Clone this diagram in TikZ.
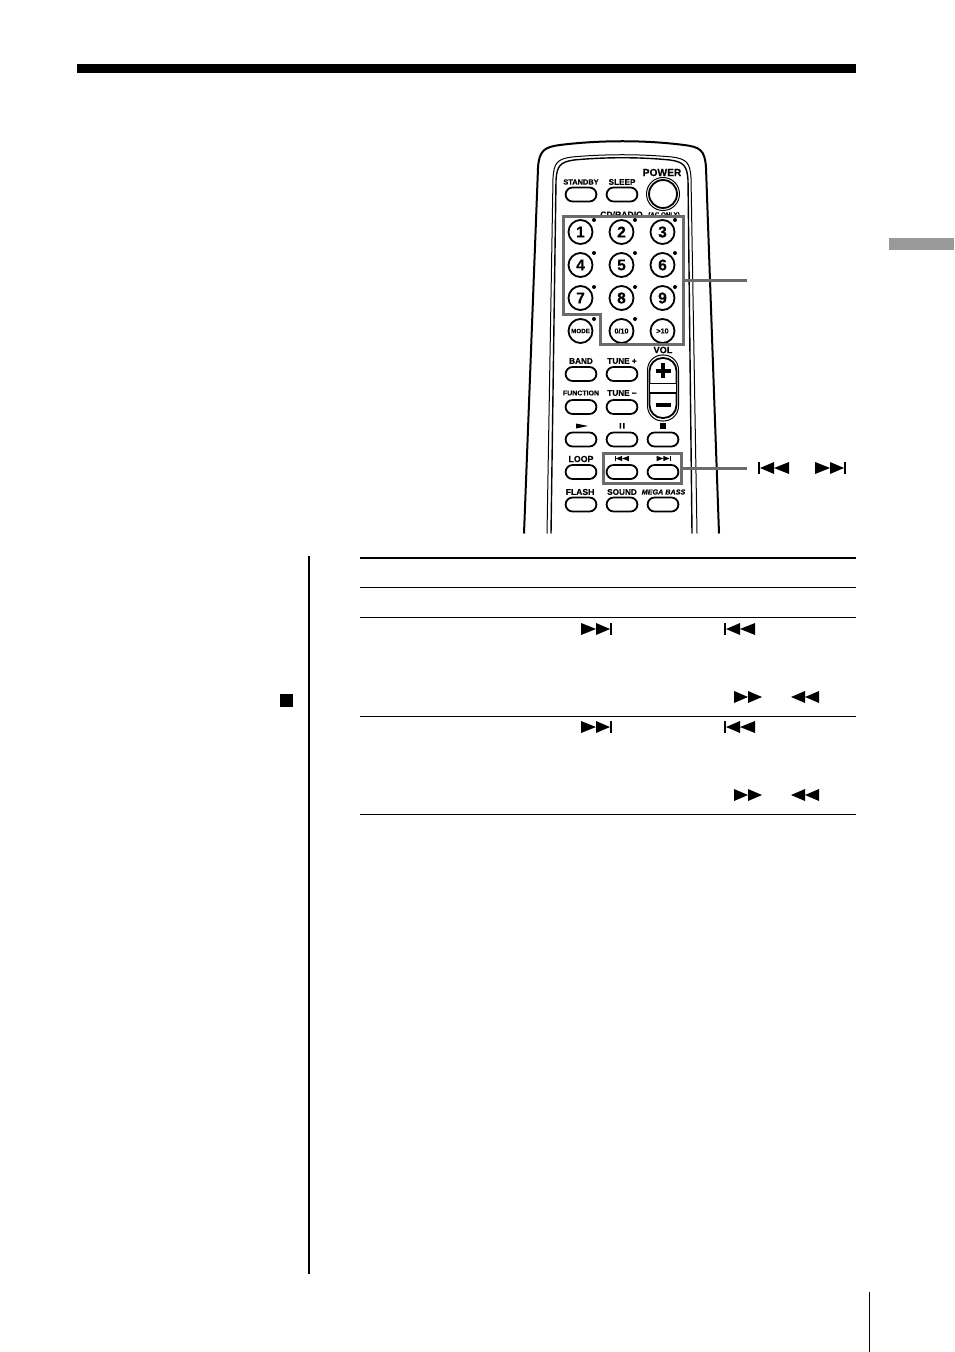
\documentclass[tikz,border=0pt]{standalone}
\usepackage{fontspec}
\setmainfont[BoldFeatures={FakeBold=0.4},BoldItalicFeatures={FakeBold=0.8}]{Liberation Sans}
\definecolor{mark}{gray}{0.42}
\tikzset{
  pillbtn/.style={draw,line width=0.9pt,minimum width=15.4pt,minimum height=7pt,inner sep=0pt,rounded corners=3.5pt},
  numbtn/.style={draw,circle,line width=0.9pt,minimum size=12pt,inner sep=0pt,font=\fontsize{7.8}{8}\selectfont\bfseries},
  smallbtn/.style={numbtn,font=\fontsize{3.6}{4}\selectfont\bfseries},
  lbl/.style={inner sep=0pt,font=\fontsize{4.1}{5}\selectfont\bfseries},
  marker/.style={draw=mark,line width=1.5pt},
  pics/skipnext/.style={code={\fill (0,-6) -- (15,0) -- (0,6) -- cycle (15,-6) -- (29,0) -- (15,6) -- cycle;
      \fill (29,-6) rectangle (31,6);}},
  pics/skipprev/.style={code={\fill (0,-6) rectangle (2,6);
      \fill (31,-6) -- (16,0) -- (31,6) -- cycle (16,-6) -- (2,0) -- (16,6) -- cycle;}},
  pics/fastfwd/.style={code={\fill (0,-6) -- (14,0) -- (0,6) -- cycle (14,-6) -- (28,0) -- (14,6) -- cycle;}},
  pics/fastrew/.style={code={\fill (28,-6) -- (14,0) -- (28,6) -- cycle (14,-6) -- (0,0) -- (14,6) -- cycle;}}
}
\begin{document}
\begin{tikzpicture}[x=0.5pt,y=-0.5pt]
\useasboundingbox (0,0) rectangle (954,1352);
% page furniture
\fill (77,64) rectangle (856,73);
\fill[white!60!black] (889,238) rectangle (954,250);
\draw[line width=0.6pt] (869.5,1292) -- (869.5,1352);
\draw[line width=1pt] (309,556) -- (309,1273.5);
\fill (280,694) rectangle (292.5,706.5);
% table rules
\draw[line width=0.9pt] (360,558) -- (856,558);
\foreach \ruley in {587.5,617.5,716.5,814.5}
  \draw[line width=0.55pt] (360,\ruley) -- (856,\ruley);
% remote body
\draw[line width=1pt] (524,533.5) -- (538,168) .. controls (539,150) and (545,147) .. (560,145)
  .. controls (600,140) and (645,140) .. (684,145) .. controls (700,147) and (705,150) .. (706,168) -- (719,533.5);
\draw[line width=0.5pt] (547,533.5) -- (553,178) .. controls (554,163) and (557,159) .. (572,157)
  .. controls (605,154) and (640,154) .. (672,157) .. controls (687,159) and (690,163) .. (691,178) -- (697,533.5);
\draw[line width=0.7pt] (551,533.5) -- (556,180) .. controls (557,166) and (560,162) .. (574,160)
  .. controls (605,157) and (640,157) .. (670,160) .. controls (684,162) and (687,166) .. (688,180) -- (692,533.5);
% power
\node[draw,circle,line width=0.5pt,minimum size=16.5pt,inner sep=0pt] (powerring) at (663,194) {};
\node[draw,circle,line width=0.9pt,minimum size=14pt,inner sep=0pt] (power) at (663,194) {};
% pill buttons
\foreach \btnname/\btnx/\btny in {standby/581/194.5,sleep/622/194.5,
    band/581/374,tuneup/622/374,function/581/407,tunedown/622/407,
    play/581/439.5,pause/622/439.5,stop/663/439.5,
    loop/581/472,prev/622/472,next/663/472,
    flash/581/504.5,sound/622/504.5,megabass/663/504.5}
  \node[pillbtn] (\btnname) at (\btnx,\btny) {};
% number buttons
\foreach \numtxt/\numx/\numy in {1/580.5/232,2/621.5/232,3/662.5/232,
    4/580.5/265,5/621.5/265,6/662.5/265,
    7/580.5/298,8/621.5/298,9/662.5/298}
  \node[numbtn] (num\numtxt) at (\numx,\numy) {\numtxt};
\node[smallbtn] (mode) at (580.5,331) {\fontsize{3.1}{4}\selectfont MODE};
\node[smallbtn] (num0) at (621.5,331) {0/10};
\node[smallbtn] (numgt) at (662.5,331) {>10};
\foreach \dotx/\doty in {594/220,635/220,675/220,594/253,635/253,675/253,
    594/287,635/287,675/287,594/319,635/319}
  \fill (\dotx,\doty) circle (1pt);
% labels
\node[lbl,font=\fontsize{3.7}{5}\selectfont\bfseries] (lstandby) at (581,182) {STANDBY};
\node[lbl] (lsleep) at (622,182) {SLEEP};
\node[lbl,font=\fontsize{5.1}{6}\selectfont\bfseries] (lpower) at (662,172.5) {POWER};
\node[lbl,font=\fontsize{4.3}{5}\selectfont\bfseries] (lcdradio) at (621.5,214.5) {CD/RADIO};
\node[lbl,font=\fontsize{3.1}{4}\selectfont\bfseries] (laconly) at (664,215) {(AC ONLY)};
\node[lbl,font=\fontsize{4.6}{5}\selectfont\bfseries] (lvol) at (663,350) {VOL};
\node[lbl] (lband) at (581,361) {BAND};
\node[lbl] (ltuneup) at (622,361) {TUNE +};
\node[lbl,font=\fontsize{3.5}{5}\selectfont\bfseries] (lfunction) at (581,393) {FUNCTION};
\node[lbl] (ltunedown) at (622,393) {TUNE −};
\node[lbl,font=\fontsize{4.4}{5}\selectfont\bfseries] (lloop) at (581,459) {LOOP};
\node[lbl,font=\fontsize{4.3}{5}\selectfont\bfseries] (lflash) at (580,492) {FLASH};
\node[lbl,font=\fontsize{4.1}{5}\selectfont\bfseries] (lsound) at (622,492) {SOUND};
\node[lbl,font=\fontsize{3.6}{5}\selectfont\bfseries\itshape] (lmega) at (663.5,492) {MEGA BASS};
% volume rocker
\draw[line width=0.5pt,rounded corners=7.5pt] (647.5,355) rectangle (678.5,421);
\draw[line width=0.9pt,rounded corners=6.5pt] (649.5,358) rectangle (676.5,418);
\fill[white] (650,384) rectangle (676,393);
\draw[line width=0.8pt] (649.5,383.5) -- (676.5,383.5) (649.5,393) -- (676.5,393);
\draw[line width=1.8pt] (655.5,371) -- (670.5,371) (663,363.5) -- (663,378.5);
\draw[line width=1.8pt] (655.5,405) -- (670.5,405);
% small symbols
\fill (576,423.5) -- (588,426) -- (576,428.5) -- cycle;
\fill (619.5,423) rectangle (621.2,428.5) (623,423) rectangle (624.7,428.5);
\fill (660,423) rectangle (665.5,428.5);
\pic[scale=0.45] at (615,458.5) {skipprev};
\pic[scale=0.45] at (656.5,458.5) {skipnext};
% markers
\draw[marker] (563,217) -- (683,217) -- (683,345) -- (600.5,345) -- (600.5,315) -- (563,315) -- cycle;
\node[marker,draw,minimum width=39pt,minimum height=15pt,inner sep=0pt] (skipbox) at (642,468.5) {};
\coordinate (numout) at (683,281);
\coordinate (numend) at (747,281);
\coordinate (skipend) at (747,468.5);
\draw[marker] (numout) -- (numend);
\draw[marker] (skipbox.east) -- (skipend);
% transport symbols
\pic at (758,468) {skipprev};
\pic at (815,468) {skipnext};
\foreach \symy in {629,727} {
  \pic at (581,\symy) {skipnext};
  \pic at (724,\symy) {skipprev};
}
\foreach \symy in {697,795} {
  \pic at (734,\symy) {fastfwd};
  \pic at (791,\symy) {fastrew};
}
\end{tikzpicture}
\end{document}
